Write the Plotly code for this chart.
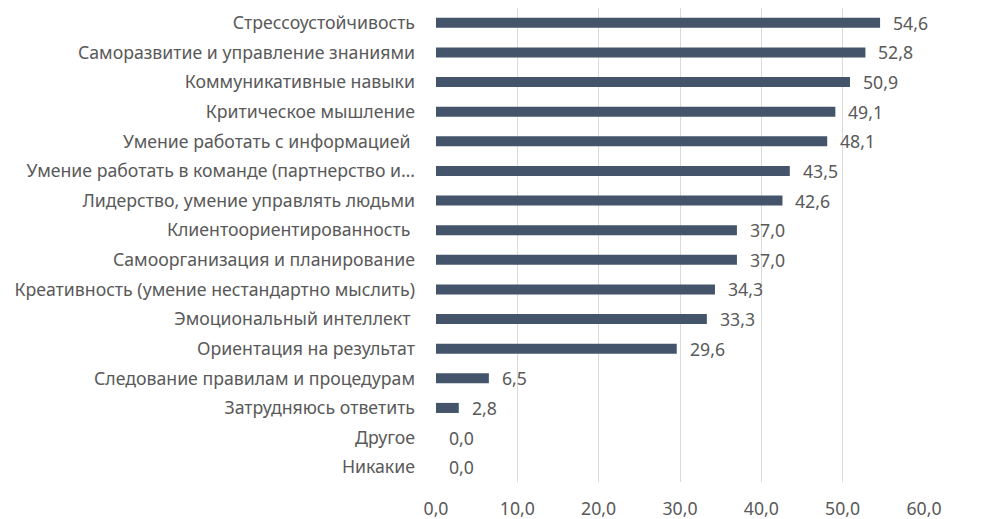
import plotly.graph_objects as go

categories = [
    "Стрессоустойчивость",
    "Саморазвитие и управление знаниями",
    "Коммуникативные навыки",
    "Критическое мышление",
    "Умение работать с информацией ",
    "Умение работать в команде (партнерство и…",
    "Лидерство, умение управлять людьми",
    "Клиентоориентированность ",
    "Самоорганизация и планирование",
    "Креативность (умение нестандартно мыслить)",
    "Эмоциональный интеллект ",
    "Ориентация на результат",
    "Следование правилам и процедурам",
    "Затрудняюсь ответить",
    "Другое",
    "Никакие",
]
values = [54.6, 52.8, 50.9, 49.1, 48.1, 43.5, 42.6, 37.0, 37.0, 34.3, 33.3, 29.6, 6.5, 2.8, 0.0, 0.0]
tick_vals = [0, 10, 20, 30, 40, 50, 60]

FONT = "Noto Sans"
GRAY = "#595959"
SIZE = 17.7

fig = go.Figure(go.Bar(
    x=values,
    y=categories,
    orientation="h",
    marker=dict(color="#44546A", line=dict(width=0)),
    width=0.34,
    hoverinfo="x+y",
))

for c, v in zip(categories, values):
    fig.add_annotation(
        x=v, y=c, xref="x", yref="y",
        text=f"{v:.1f}".replace(".", ","),
        showarrow=False, xanchor="left", yanchor="middle",
        xshift=11,
        font=dict(family=FONT, size=SIZE, color=GRAY),
    )

# page body adds an 8px offset; figure sized to fit the 1001x519 window
fig.update_layout(
    width=993, height=511,
    margin=dict(l=428, r=77, t=0, b=37),
    paper_bgcolor="white", plot_bgcolor="white",
    separators=", ",
    showlegend=False,
    font=dict(family=FONT, size=SIZE, color=GRAY),
)
fig.update_xaxes(
    range=[0, 60], tickvals=tick_vals, tickformat=".1f",
    showgrid=True, gridcolor="#D9D9D9", gridwidth=1,
    zeroline=False, showline=False, automargin=False,
    ticklabelstandoff=14,
    tickfont=dict(family=FONT, size=SIZE, color=GRAY),
)
fig.update_yaxes(
    autorange="reversed", showgrid=False, showline=False,
    ticks="", ticklabelstandoff=20, automargin=False,
    tickfont=dict(family=FONT, size=SIZE, color=GRAY),
)
fig.write_html("out.html")
